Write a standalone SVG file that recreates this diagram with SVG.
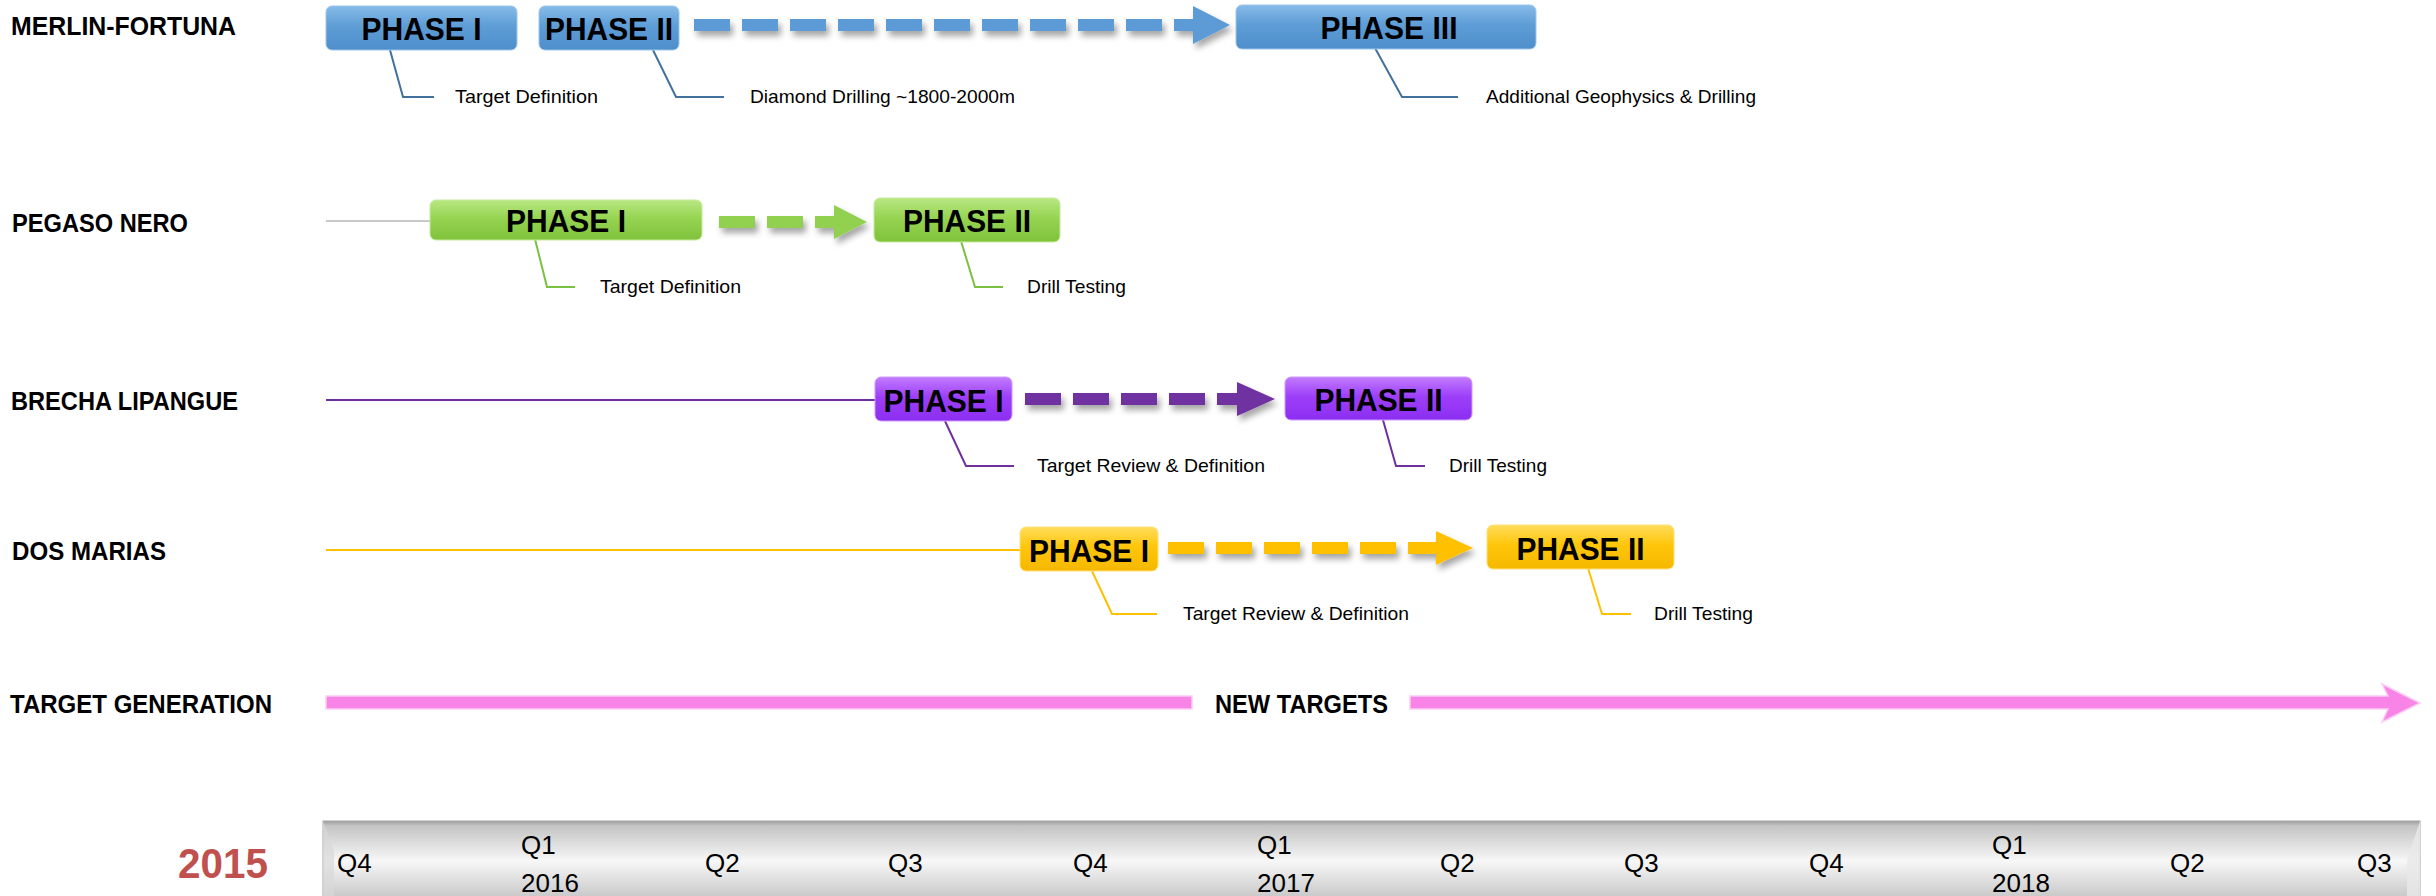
<svg xmlns="http://www.w3.org/2000/svg" width="2436" height="896" viewBox="0 0 2436 896">
<defs>
<style>
.lbl{font-family:"Liberation Sans",Arial,sans-serif;font-weight:bold;font-size:26px;fill:#000}
.ph{font-family:"Liberation Sans",Arial,sans-serif;font-weight:bold;font-size:32px;fill:#000;text-anchor:middle}
.ann{font-family:"Liberation Sans",Arial,sans-serif;font-size:19px;fill:#000}
.q{font-family:"Liberation Sans",Arial,sans-serif;font-size:26px;fill:#000}
.yr{font-family:"Liberation Sans",Arial,sans-serif;font-weight:bold;font-size:43px;fill:#c0504d}
.call{fill:none;stroke-width:2}
.dash{fill:none;stroke-width:12;stroke-dasharray:36 12}
</style>
<linearGradient id="gBlue" x1="0" y1="0" x2="0" y2="1">
<stop offset="0" stop-color="#86bbe9"/><stop offset="0.45" stop-color="#5e9dd6"/><stop offset="1" stop-color="#4e8ecb"/>
</linearGradient>
<linearGradient id="gGreen" x1="0" y1="0" x2="0" y2="1">
<stop offset="0" stop-color="#b9e884"/><stop offset="0.45" stop-color="#96d452"/><stop offset="1" stop-color="#80c23c"/>
</linearGradient>
<linearGradient id="gPurple" x1="0" y1="0" x2="0" y2="1">
<stop offset="0" stop-color="#c27cff"/><stop offset="0.45" stop-color="#9d3ff9"/><stop offset="1" stop-color="#8c2ef0"/>
</linearGradient>
<linearGradient id="gYellow" x1="0" y1="0" x2="0" y2="1">
<stop offset="0" stop-color="#ffdc5c"/><stop offset="0.45" stop-color="#ffc60a"/><stop offset="1" stop-color="#f5b800"/>
</linearGradient>
<linearGradient id="gBar" x1="0" y1="0" x2="0" y2="1">
<stop offset="0" stop-color="#9e9e9e"/><stop offset="0.06" stop-color="#c4c4c4"/><stop offset="0.5" stop-color="#f7f7f7"/><stop offset="0.95" stop-color="#c9c9c9"/><stop offset="1" stop-color="#bdbdbd"/>
</linearGradient>
<filter id="sh" x="-5%" y="-50%" width="110%" height="220%">
<feDropShadow dx="3" dy="5" stdDeviation="3" flood-color="#000" flood-opacity="0.35"/>
</filter>
</defs>
<rect width="2436" height="896" fill="#fff"/>

<!-- row labels -->
<g id="label-merlin"><text class="lbl" x="11" y="35" textLength="225" lengthAdjust="spacingAndGlyphs">MERLIN-FORTUNA</text></g>
<g id="label-pegaso"><text class="lbl" x="12" y="232" textLength="176" lengthAdjust="spacingAndGlyphs">PEGASO NERO</text></g>
<g id="label-brecha"><text class="lbl" x="11" y="410" textLength="227" lengthAdjust="spacingAndGlyphs">BRECHA LIPANGUE</text></g>
<g id="label-dos"><text class="lbl" x="12" y="560" textLength="154" lengthAdjust="spacingAndGlyphs">DOS MARIAS</text></g>
<g id="label-target"><text class="lbl" x="10" y="713" textLength="262" lengthAdjust="spacingAndGlyphs">TARGET GENERATION</text></g>

<!-- connectors -->
<g id="connectors">
<line x1="326" y1="221" x2="430" y2="221" stroke="#c8c8c8" stroke-width="2"/>
<line x1="326" y1="400" x2="876" y2="400" stroke="#7030a0" stroke-width="2"/>
<line x1="326" y1="550" x2="1021" y2="550" stroke="#ffc000" stroke-width="2"/>
<g filter="url(#sh)">
<line class="dash" x1="694" y1="25" x2="1198" y2="25" stroke="#5b9bd5"/>
<polygon points="1193,6 1230,25 1193,44" fill="#5b9bd5"/>
<line class="dash" x1="719" y1="222" x2="838" y2="222" stroke="#92d050" stroke-dasharray="39 10"/>
<polygon points="834,205 867,222 834,239" fill="#92d050"/>
<line class="dash" x1="1025" y1="399" x2="1240" y2="399" stroke="#7030a0"/>
<polygon points="1237,382 1275,399 1237,416" fill="#7030a0"/>
<line class="dash" x1="1168" y1="548" x2="1440" y2="548" stroke="#ffc000"/>
<polygon points="1436,531 1473,548 1436,565" fill="#ffc000"/>
</g>
<polyline class="call" points="390,50 403,97 434,97" stroke="#41719c"/>
<polyline class="call" points="653,50 676,97 724,97" stroke="#41719c"/>
<polyline class="call" points="1375,48 1402,97 1458,97" stroke="#41719c"/>
<polyline class="call" points="535,239 547,287 575,287" stroke="#7ac143"/>
<polyline class="call" points="961,241 975,287 1003,287" stroke="#7ac143"/>
<polyline class="call" points="945,421 966,466 1014,466" stroke="#7030a0"/>
<polyline class="call" points="1383,420 1396,466 1425,466" stroke="#7030a0"/>
<polyline class="call" points="1092,571 1112,614 1157,614" stroke="#ffc000"/>
<polyline class="call" points="1588,568 1602,614 1631,614" stroke="#ffc000"/>
<rect x="326" y="696" width="866" height="13" fill="#f984e8" stroke="#fbcdf3" stroke-width="1.5"/>
<polygon points="1410,696 2388,696 2382,684 2420,703 2382,722 2388,709 1410,709" fill="#f984e8" stroke="#fbcdf3" stroke-width="1.5"/>
</g>

<!-- MERLIN-FORTUNA -->
<g id="mf-phase1">
<rect x="326" y="6" width="191" height="44" rx="6" fill="url(#gBlue)" stroke="#9cc6ec" stroke-width="1"/>
<text class="ph" x="421.5" y="40" textLength="120" lengthAdjust="spacingAndGlyphs">PHASE I</text>
<text class="ann" x="455" y="103" textLength="143" lengthAdjust="spacingAndGlyphs">Target Definition</text>
</g>
<g id="mf-phase2">
<rect x="539" y="6" width="140" height="44" rx="6" fill="url(#gBlue)" stroke="#9cc6ec" stroke-width="1"/>
<text class="ph" x="609" y="40" textLength="128" lengthAdjust="spacingAndGlyphs">PHASE II</text>
<text class="ann" x="750" y="103" textLength="265" lengthAdjust="spacingAndGlyphs">Diamond Drilling ~1800-2000m</text>
</g>
<g id="mf-phase3">
<rect x="1236" y="5" width="300" height="44" rx="6" fill="url(#gBlue)" stroke="#9cc6ec" stroke-width="1"/>
<text class="ph" x="1389" y="39" textLength="137" lengthAdjust="spacingAndGlyphs">PHASE III</text>
<text class="ann" x="1486" y="103" textLength="270" lengthAdjust="spacingAndGlyphs">Additional Geophysics &amp; Drilling</text>
</g>

<!-- PEGASO NERO -->
<g id="pn-phase1">
<rect x="430" y="200" width="272" height="40" rx="6" fill="url(#gGreen)" stroke="#c4ec98" stroke-width="1"/>
<text class="ph" x="566" y="232" textLength="120" lengthAdjust="spacingAndGlyphs">PHASE I</text>
<text class="ann" x="600" y="293" textLength="141" lengthAdjust="spacingAndGlyphs">Target Definition</text>
</g>
<g id="pn-phase2">
<rect x="874" y="198" width="186" height="44" rx="6" fill="url(#gGreen)" stroke="#c4ec98" stroke-width="1"/>
<text class="ph" x="967" y="232" textLength="128" lengthAdjust="spacingAndGlyphs">PHASE II</text>
<text class="ann" x="1027" y="293" textLength="99" lengthAdjust="spacingAndGlyphs">Drill Testing</text>
</g>

<!-- BRECHA LIPANGUE -->
<g id="bl-phase1">
<rect x="875" y="377" width="137" height="44" rx="6" fill="url(#gPurple)" stroke="#cf99ff" stroke-width="1"/>
<text class="ph" x="943.5" y="412" textLength="120" lengthAdjust="spacingAndGlyphs">PHASE I</text>
<text class="ann" x="1037" y="472" textLength="228" lengthAdjust="spacingAndGlyphs">Target Review &amp; Definition</text>
</g>
<g id="bl-phase2">
<rect x="1285" y="377" width="187" height="43" rx="6" fill="url(#gPurple)" stroke="#cf99ff" stroke-width="1"/>
<text class="ph" x="1378.5" y="411" textLength="128" lengthAdjust="spacingAndGlyphs">PHASE II</text>
<text class="ann" x="1449" y="472" textLength="98" lengthAdjust="spacingAndGlyphs">Drill Testing</text>
</g>

<!-- DOS MARIAS -->
<g id="dm-phase1">
<rect x="1020" y="527" width="138" height="44" rx="6" fill="url(#gYellow)" stroke="#ffe07a" stroke-width="1"/>
<text class="ph" x="1089" y="562" textLength="120" lengthAdjust="spacingAndGlyphs">PHASE I</text>
<text class="ann" x="1183" y="620" textLength="226" lengthAdjust="spacingAndGlyphs">Target Review &amp; Definition</text>
</g>
<g id="dm-phase2">
<rect x="1487" y="525" width="187" height="44" rx="6" fill="url(#gYellow)" stroke="#ffe07a" stroke-width="1"/>
<text class="ph" x="1580.5" y="560" textLength="128" lengthAdjust="spacingAndGlyphs">PHASE II</text>
<text class="ann" x="1654" y="620" textLength="99" lengthAdjust="spacingAndGlyphs">Drill Testing</text>
</g>

<!-- TARGET GENERATION -->
<g id="tg-new">
<text class="lbl" x="1215" y="713" textLength="173" lengthAdjust="spacingAndGlyphs">NEW TARGETS</text>
</g>

<!-- timeline -->
<g id="timeline">
<text class="yr" x="178" y="878" textLength="90" lengthAdjust="spacingAndGlyphs">2015</text>
<rect x="323" y="821" width="2097" height="80" fill="url(#gBar)" stroke="#a8a8a8" stroke-width="1"/>
<polygon points="323,821 334,850 334,896 323,896" fill="#d8d8d8" opacity="0.7"/>
<polygon points="2420,821 2407,860 2407,896 2420,896" fill="#e8e8e8" opacity="0.8"/>
<text class="q" x="337" y="872">Q4</text>
<text class="q" x="521" y="854">Q1</text><text class="q" x="521" y="892">2016</text>
<text class="q" x="705" y="872">Q2</text>
<text class="q" x="888" y="872">Q3</text>
<text class="q" x="1073" y="872">Q4</text>
<text class="q" x="1257" y="854">Q1</text><text class="q" x="1257" y="892">2017</text>
<text class="q" x="1440" y="872">Q2</text>
<text class="q" x="1624" y="872">Q3</text>
<text class="q" x="1809" y="872">Q4</text>
<text class="q" x="1992" y="854">Q1</text><text class="q" x="1992" y="892">2018</text>
<text class="q" x="2170" y="872">Q2</text>
<text class="q" x="2357" y="872">Q3</text>
</g>
</svg>
